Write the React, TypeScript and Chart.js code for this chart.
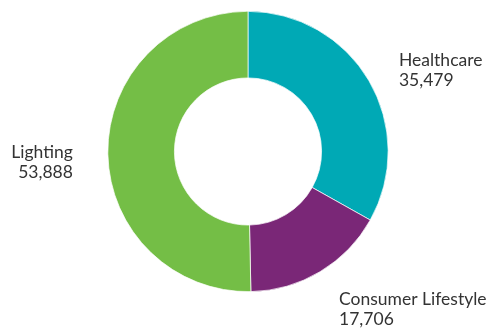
import React, { useEffect, useRef } from "react";
import { Chart, registerables } from "chart.js";

Chart.register(...registerables);

const categories = ["Healthcare", "Consumer Lifestyle", "Lighting"];
const values = [35479, 17706, 53888];
const valueLabels = ["35,479", "17,706", "53,888"];
const colors = ["#00A9B5", "#7A2777", "#74BE46"];
// label placement: offset from the arc's outer mid-point, and alignment
const labelOffsets = [
  { dx: 30, dy: -15, align: "left" },
  { dx: 19, dy: 33, align: "left" },
  { dx: -35, dy: 5, align: "right" },
];

const labelPlugin = {
  id: "sliceLabels",
  afterDatasetsDraw(chart: any) {
    const ctx = chart.ctx;
    const meta = chart.getDatasetMeta(0);
    ctx.save();
    ctx.font = "17.5px Lato, 'Open Sans', sans-serif";
    ctx.fillStyle = "#333333";
    ctx.textBaseline = "alphabetic";
    meta.data.forEach((arc: any, i: number) => {
      const p = arc.getProps(["x", "y", "startAngle", "endAngle", "outerRadius"], true);
      const mid = (p.startAngle + p.endAngle) / 2;
      const ax = p.x + Math.cos(mid) * p.outerRadius;
      const ay = p.y + Math.sin(mid) * p.outerRadius;
      const o = labelOffsets[i];
      ctx.textAlign = o.align;
      const x = ax + o.dx;
      const y = ay + o.dy;
      ctx.fillText(categories[i], x, y);
      ctx.fillText(valueLabels[i], x, y + 20);
    });
    ctx.restore();
  },
};

export default function App() {
  const ref = useRef<HTMLCanvasElement>(null);
  useEffect(() => {
    if (!ref.current) return;
    const chart = new Chart(ref.current, {
      type: "doughnut",
      data: {
        labels: categories,
        datasets: [
          {
            data: values,
            backgroundColor: colors,
            borderColor: "#ffffff",
            borderWidth: 0.7,
          },
        ],
      },
      options: {
        animation: false,
        responsive: true,
        maintainAspectRatio: false,
        cutout: "52.5%",
        layout: { padding: { top: 11, bottom: 37, left: 0, right: 0 } },
        plugins: {
          legend: { display: false },
          tooltip: { enabled: false },
        },
      },
      plugins: [labelPlugin],
    });
    return () => chart.destroy();
  }, []);
  return (
    <div style={{ position: "fixed", left: 0, top: 0, width: 496, height: 329, background: "#fff" }}>
      <canvas ref={ref} />
    </div>
  );
}
